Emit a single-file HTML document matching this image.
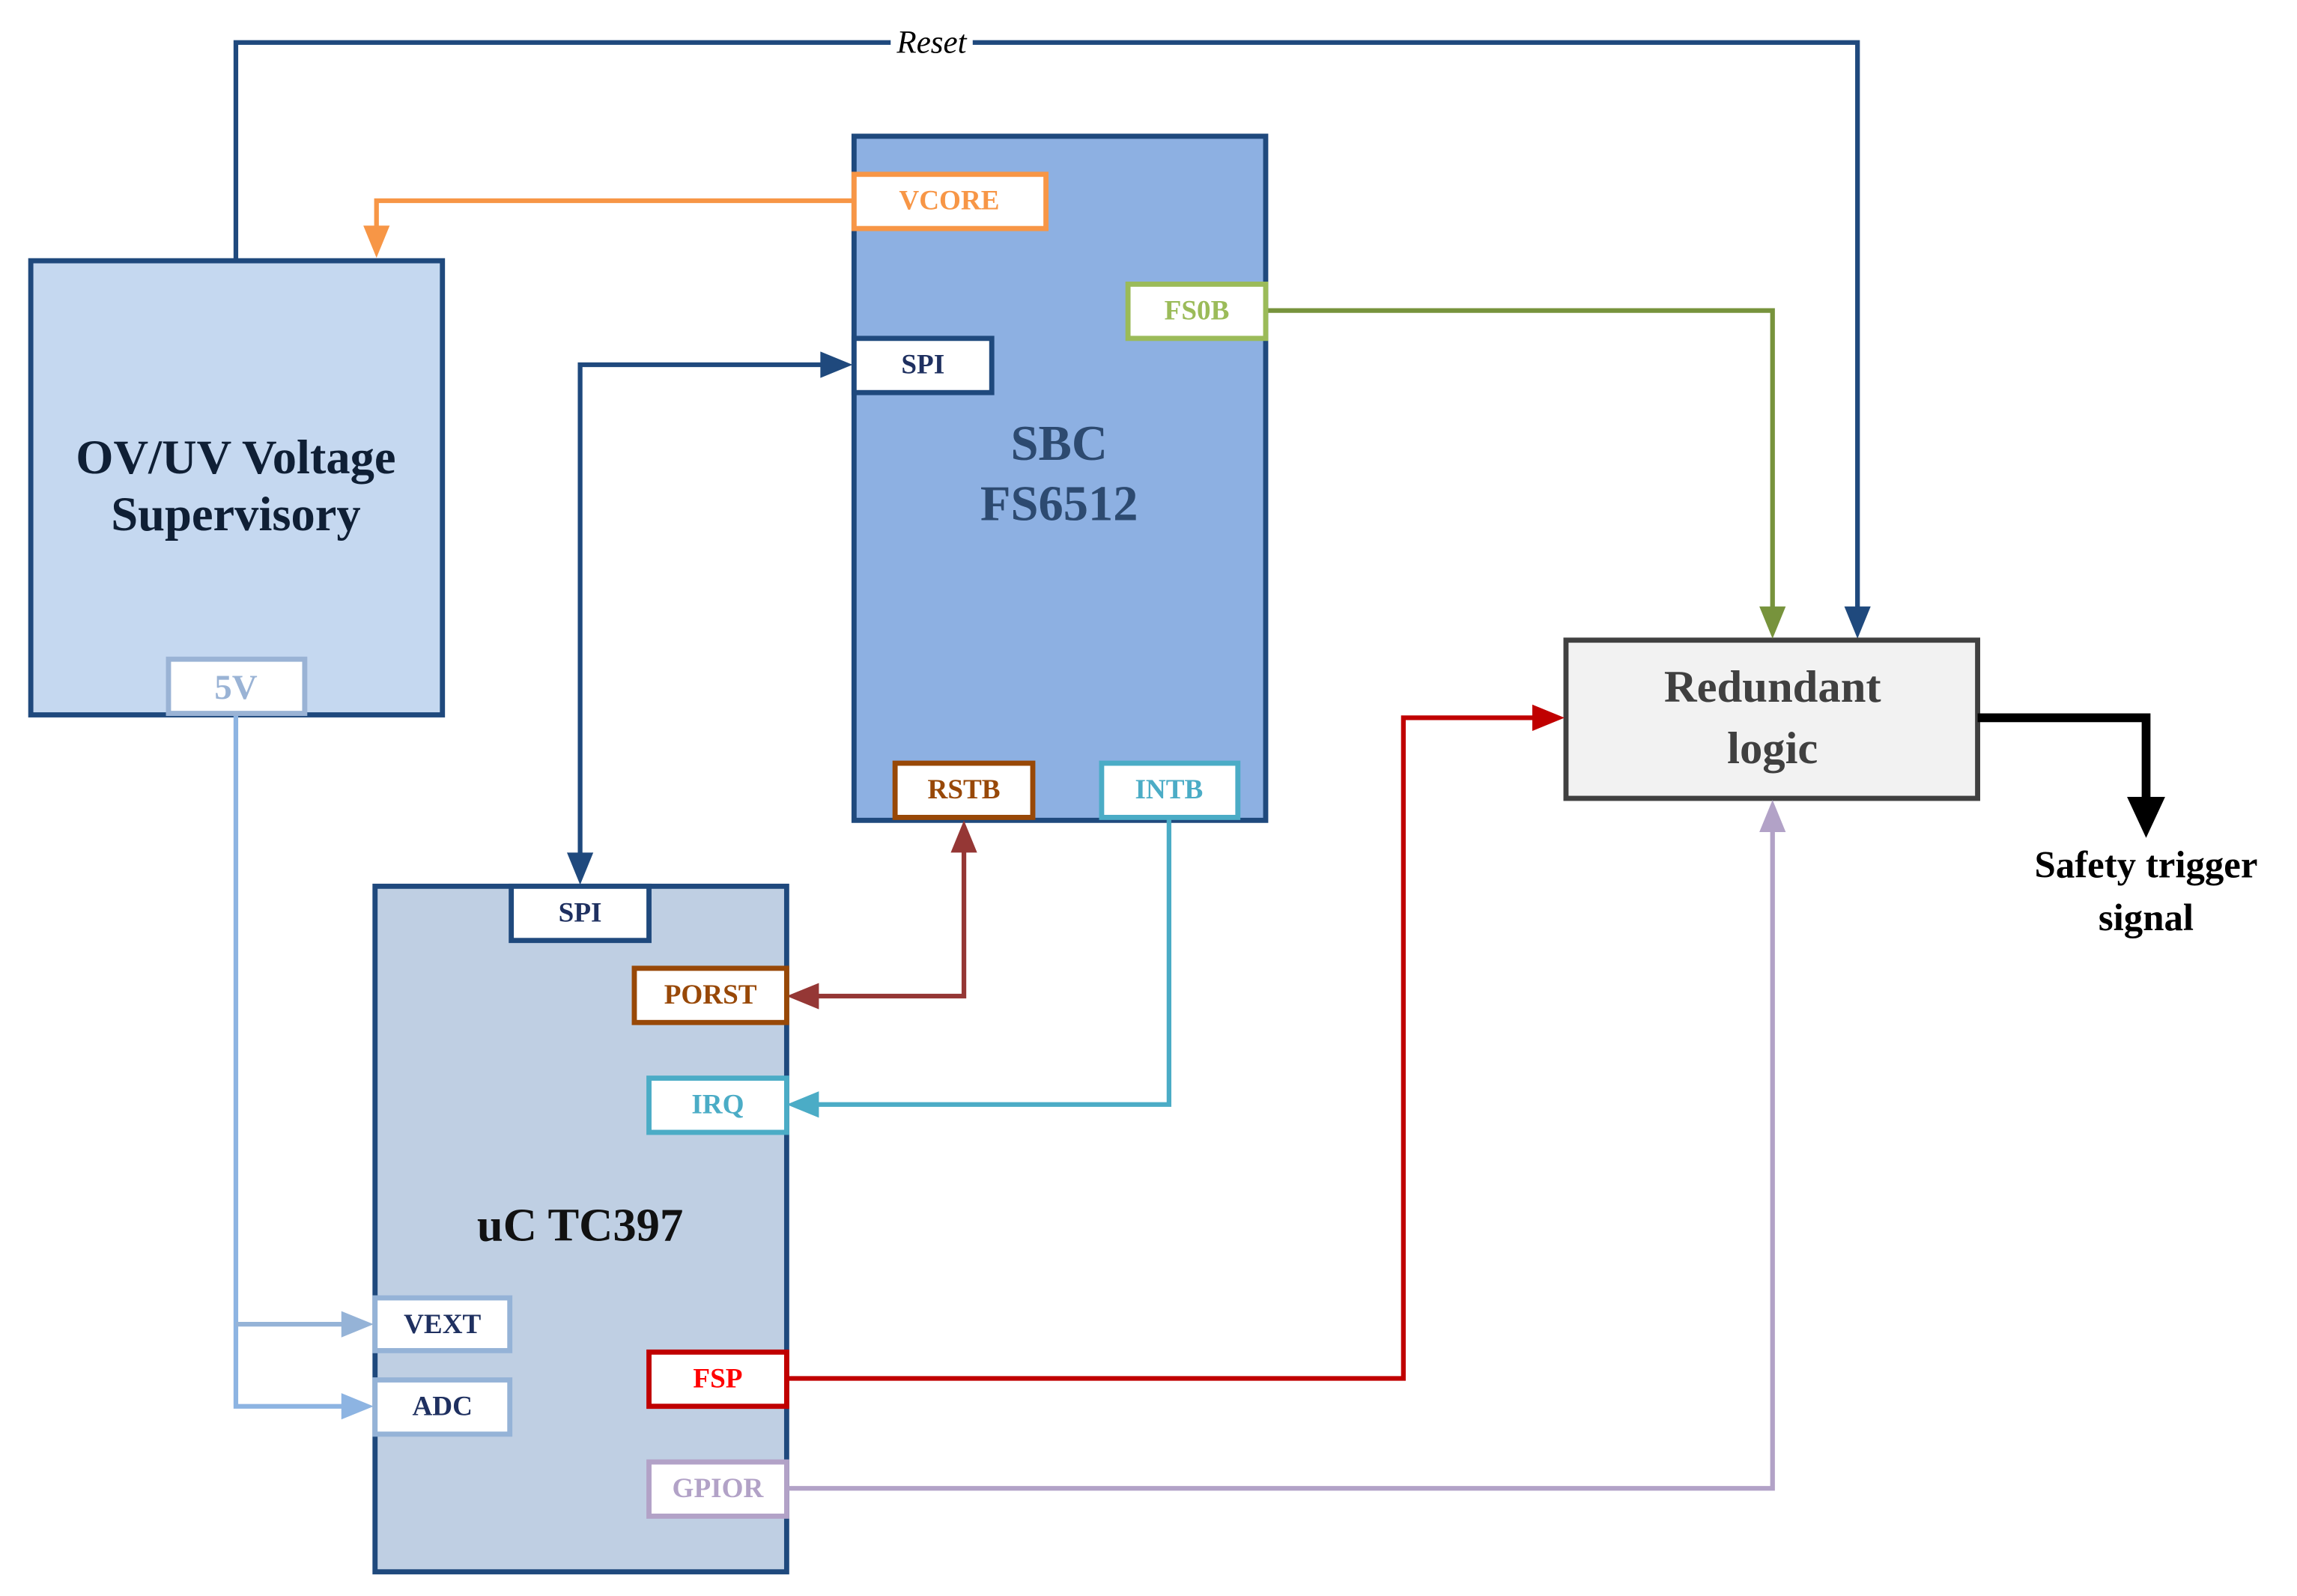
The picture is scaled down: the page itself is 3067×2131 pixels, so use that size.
<!DOCTYPE html>
<html><head><style>html,body{margin:0;padding:0;background:#fff}svg{display:block}</style></head><body>
<svg width="3067" height="2131" viewBox="0 0 1568 1089.5" xmlns="http://www.w3.org/2000/svg" font-family="'Liberation Serif', serif" font-weight="bold">
<rect width="1568" height="1089.5" fill="#fff"/>
<polyline points="161,177 161,29 1268,29 1268,420" fill="none" stroke="#1f497d" stroke-width="3.2"/>
<polygon points="1259,414 1277,414 1268,436" fill="#1f497d"/>
<rect x="608" y="16" width="56" height="24" fill="#fff"/>
<text x="636" y="36" font-size="22" font-style="italic" font-weight="normal" text-anchor="middle" fill="#000">Reset</text>
<rect x="21" y="178" width="281" height="310" fill="#c5d8f0" stroke="#1f497d" stroke-width="3.5"/>
<text x="161" y="323" font-size="33" text-anchor="middle" fill="#0f1f35">OV/UV Voltage</text>
<text x="161" y="362" font-size="33" text-anchor="middle" fill="#0f1f35">Supervisory</text>
<rect x="583" y="93" width="281" height="467" fill="#8db0e2" stroke="#1f497d" stroke-width="3.5"/>
<text x="723" y="314" font-size="34" text-anchor="middle" fill="#2d4a70">SBC</text>
<text x="723" y="355" font-size="34" text-anchor="middle" fill="#2d4a70">FS6512</text>
<rect x="256" y="605" width="281" height="468" fill="#bfcfe3" stroke="#1f497d" stroke-width="3.5"/>
<text x="396" y="847" font-size="32" text-anchor="middle" fill="#111">uC TC397</text>
<rect x="1069" y="437" width="281" height="108" fill="#f2f2f2" stroke="#404040" stroke-width="3.5"/>
<text x="1210" y="479" font-size="31" text-anchor="middle" fill="#404040">Redundant</text>
<text x="1210" y="521" font-size="31" text-anchor="middle" fill="#404040">logic</text>
<polyline points="583,137 257,137 257,160" fill="none" stroke="#f79646" stroke-width="3.2"/>
<polygon points="248,154 266,154 257,176" fill="#f79646"/>
<polyline points="864,212 1210,212 1210,420" fill="none" stroke="#77933c" stroke-width="3.2"/>
<polygon points="1201,414 1219,414 1210,436" fill="#77933c"/>
<polyline points="566,249 396,249 396,588" fill="none" stroke="#1f497d" stroke-width="3.2"/>
<polygon points="560,240 560,258 582,249" fill="#1f497d"/>
<polygon points="387,582 405,582 396,604" fill="#1f497d"/>
<polyline points="553,680 658,680 658,576" fill="none" stroke="#953735" stroke-width="3.2"/>
<polygon points="559,671 559,689 537,680" fill="#953735"/>
<polygon points="649,582 667,582 658,560" fill="#953735"/>
<polyline points="798,558 798,754 553,754" fill="none" stroke="#4bacc6" stroke-width="3.2"/>
<polygon points="559,745 559,763 537,754" fill="#4bacc6"/>
<polyline points="161,488 161,960 239,960" fill="none" stroke="#8db4e2" stroke-width="3.2"/>
<polyline points="161,904 239,904" fill="none" stroke="#95b3d7" stroke-width="3.2"/>
<polygon points="233,895 233,913 255,904" fill="#95b3d7"/>
<polygon points="233,951 233,969 255,960" fill="#8db4e2"/>
<polyline points="537,941 958,941 958,490 1052,490" fill="none" stroke="#c00000" stroke-width="3.2"/>
<polygon points="1046,481 1046,499 1068,490" fill="#c00000"/>
<polyline points="537,1016 1210,1016 1210,562" fill="none" stroke="#b2a2c7" stroke-width="3.2"/>
<polygon points="1201,568 1219,568 1210,546" fill="#b2a2c7"/>
<polyline points="1350,490 1465,490 1465,550" fill="none" stroke="#000" stroke-width="6"/>
<polygon points="1452,544 1478,544 1465,572" fill="#000"/>
<text x="1465" y="599" font-size="26" text-anchor="middle" fill="#000">Safety trigger</text>
<text x="1465" y="635" font-size="26" text-anchor="middle" fill="#000">signal</text>
<g stroke-width="3.5" font-size="19" text-anchor="middle">
<rect x="115" y="450" width="93" height="37" fill="#fff" stroke="#9ab3d5"/><text x="161" y="477" fill="#9ab3d5" font-size="24">5V</text>
<rect x="583" y="119" width="131" height="37" fill="#fff" stroke="#f79646"/><text x="648" y="143" fill="#f79646">VCORE</text>
<rect x="770" y="194" width="94" height="37" fill="#fff" stroke="#9bbb59"/><text x="817" y="218" fill="#9bbb59">FS0B</text>
<rect x="583" y="231" width="94" height="37" fill="#fff" stroke="#1f497d"/><text x="630" y="255" fill="#1f3060">SPI</text>
<rect x="611" y="521" width="94" height="37" fill="#fff" stroke="#984807"/><text x="658" y="545" fill="#984807">RSTB</text>
<rect x="752" y="521" width="93" height="37" fill="#fff" stroke="#4bacc6"/><text x="798" y="545" fill="#4bacc6">INTB</text>
<rect x="349" y="605" width="94" height="37" fill="#fff" stroke="#1f497d"/><text x="396" y="629" fill="#1f3060">SPI</text>
<rect x="433" y="661" width="104" height="37" fill="#fff" stroke="#984807"/><text x="485" y="685" fill="#984807">PORST</text>
<rect x="443" y="736" width="94" height="37" fill="#fff" stroke="#4bacc6"/><text x="490" y="760" fill="#4bacc6">IRQ</text>
<rect x="256" y="886" width="92" height="36" fill="#fff" stroke="#95b3d7"/><text x="302" y="910" fill="#1f3060">VEXT</text>
<rect x="256" y="942" width="92" height="37" fill="#fff" stroke="#95b3d7"/><text x="302" y="966" fill="#1f3060">ADC</text>
<rect x="443" y="923" width="94" height="37" fill="#fff" stroke="#c00000"/><text x="490" y="947" fill="#ff0000">FSP</text>
<rect x="443" y="998" width="94" height="37" fill="#fff" stroke="#b2a2c7"/><text x="490" y="1022" fill="#b2a2c7">GPIOR</text>
</g>
</svg>
</body></html>
